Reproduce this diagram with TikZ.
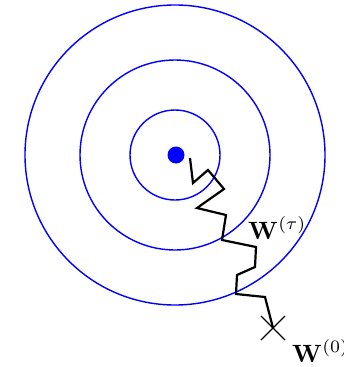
\documentclass[tikz,border=0pt]{standalone}
\usetikzlibrary{calc}
\begin{document}
\begin{tikzpicture}[x=1pt,y=-1pt,
  ring/.style={circle,draw=blue,line width=1.4pt,inner sep=0pt},
  walk/.style={draw=black,line width=2.2pt,line join=miter},
  lbl/.style={inner sep=0pt,anchor=base west}]
\useasboundingbox (0,0) rectangle (343,367);
\node[ring,minimum size=300pt] (r3) at (175,155) {};
\node[ring,minimum size=190pt] (r2) at (175,155) {};
\node[ring,minimum size=90pt] (r1) at (175,155) {};
\node[circle,fill=blue,inner sep=0pt,minimum size=17pt] (opt) at (176,155) {};
\coordinate (p0) at (190,158);
\coordinate (p1) at (193,183);
\coordinate (p2) at (208,170);
\coordinate (p3) at (224,189);
\coordinate (p4) at (197,208);
\coordinate (p5) at (226,215);
\coordinate (p6) at (222,240);
\coordinate (p7) at (256,247);
\coordinate (p8) at (255,267);
\coordinate (p9) at (237,275);
\coordinate (p10) at (236,294);
\coordinate (p11) at (265,297);
\coordinate (start) at (273,328);
\draw[walk] (p0)--(p1)--(p2)--(p3)--(p4)--(p5)--(p6)--(p7)--(p8)--(p9)--(p10)--(p11)--(start);
\draw[line width=1.3pt] ($(start)+(-12,-12)$) -- ($(start)+(12,12)$);
\draw[line width=1.3pt] ($(start)+(-12,12)$) -- ($(start)+(12,-12)$);
\node[lbl] (wt) at (248,239) {\scalebox{2.5}{$\mathbf{W}^{(\tau)}$}};
\node[lbl] (w0) at (292,362) {\scalebox{2.5}{$\mathbf{W}^{(0)}$}};
\end{tikzpicture}
\end{document}
